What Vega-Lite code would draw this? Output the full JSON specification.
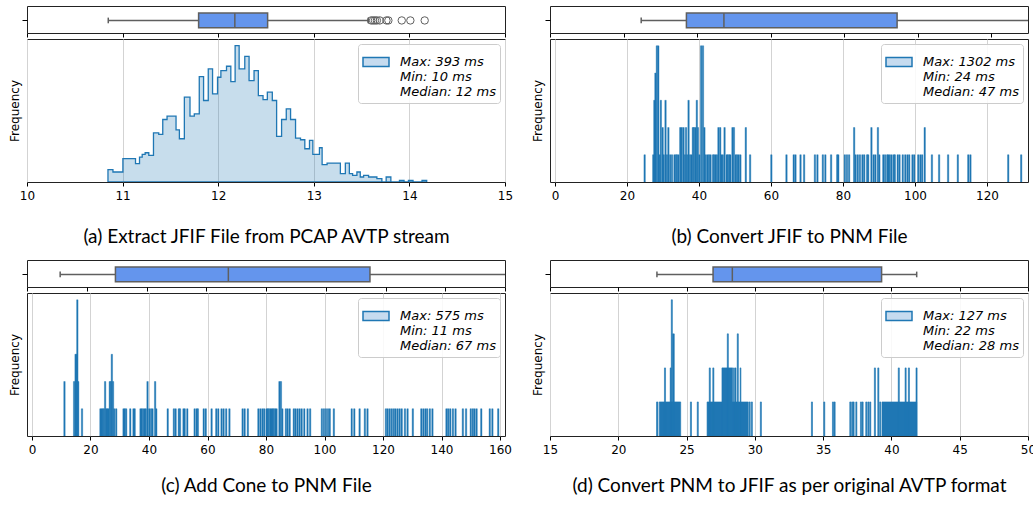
{
  "$schema": "https://vega.github.io/schema/vega-lite/v6.json",
  "padding": {"left": 7, "top": 5, "right": 0, "bottom": 0},
  "background": "white",
  "config": {
    "view": {"stroke": "#222222", "strokeWidth": 1},
    "axis": {"domain": false, "grid": false, "tickColor": "#000000", "tickSize": 4, "tickWidth": 1, "labelFont": "DejaVu Sans", "labelFontSize": 12, "labelColor": "#000000", "labelPadding": 3, "labelFlush": false, "labelOverlap": false, "titleFont": "DejaVu Sans", "titleFontSize": 12, "titleFontWeight": "normal", "titleColor": "#000000", "gridColor": "#d3d3d3", "gridWidth": 1},
    "legend": {"orient": "top-right", "offset": 5, "fillColor": "rgba(255,255,255,0.85)", "strokeColor": "#cccccc", "cornerRadius": 3, "padding": 4, "labelFont": "DejaVu Sans", "labelFontSize": 13, "labelFontStyle": "italic", "labelColor": "#000000", "labelLimit": 0, "labelOffset": 10, "symbolSize": 676, "symbolStrokeWidth": 1.5}
  },
  "datasets": {
    "boxes": [
      {"panel": "a", "lo": 10.85, "q1": 11.795, "med": 12.174, "q3": 12.517, "hi": 13.57},
      {"panel": "b", "lo": 24.8, "q1": 37.1, "med": 47.3, "q3": 94.4, "hi": 200},
      {"panel": "c", "lo": 11.1, "q1": 29.6, "med": 67.4, "q3": 114.8, "hi": 300},
      {"panel": "d", "lo": 22.83, "q1": 26.94, "med": 28.35, "q3": 39.28, "hi": 41.85}
    ],
    "outA": [{"v": 13.6}, {"v": 13.62}, {"v": 13.64}, {"v": 13.66}, {"v": 13.69}, {"v": 13.76}, {"v": 13.78}, {"v": 13.92}, {"v": 14.01}, {"v": 14.16}],
    "histA": [
      {"t": 10.847, "h": 37}, {"t": 10.899, "h": 30}, {"t": 11.003, "h": 70}, {"t": 11.135, "h": 55}, {"t": 11.177, "h": 75}, {"t": 11.205, "h": 83}, {"t": 11.236, "h": 88}, {"t": 11.274, "h": 80}, {"t": 11.323, "h": 148}, {"t": 11.378, "h": 143}, {"t": 11.42, "h": 188}, {"t": 11.465, "h": 198}, {"t": 11.559, "h": 157}, {"t": 11.594, "h": 130}, {"t": 11.646, "h": 255}, {"t": 11.705, "h": 198}, {"t": 11.75, "h": 205}, {"t": 11.802, "h": 317}, {"t": 11.847, "h": 245}, {"t": 11.896, "h": 340}, {"t": 11.941, "h": 265}, {"t": 11.993, "h": 315}, {"t": 12.028, "h": 335}, {"t": 12.087, "h": 348}, {"t": 12.132, "h": 302}, {"t": 12.177, "h": 410}, {"t": 12.219, "h": 340}, {"t": 12.278, "h": 378}, {"t": 12.323, "h": 305}, {"t": 12.375, "h": 335}, {"t": 12.42, "h": 260}, {"t": 12.469, "h": 248}, {"t": 12.514, "h": 270}, {"t": 12.566, "h": 245}, {"t": 12.611, "h": 137}, {"t": 12.663, "h": 188}, {"t": 12.712, "h": 220}, {"t": 12.757, "h": 188}, {"t": 12.809, "h": 132}, {"t": 12.861, "h": 127}, {"t": 12.906, "h": 100}, {"t": 12.955, "h": 125}, {"t": 12.99, "h": 83}, {"t": 13.059, "h": 103}, {"t": 13.087, "h": 52}, {"t": 13.139, "h": 57}, {"t": 13.278, "h": 25}, {"t": 13.33, "h": 57}, {"t": 13.372, "h": 25}, {"t": 13.406, "h": 20}, {"t": 13.451, "h": 30}, {"t": 13.486, "h": 15}, {"t": 13.521, "h": 20}, {"t": 13.573, "h": 15}, {"t": 13.66, "h": 10}, {"t": 13.712, "h": 0}, {"t": 13.757, "h": 15}, {"t": 13.806, "h": 0}, {"t": 13.896, "h": 5}, {"t": 13.944, "h": 0}, {"t": 13.99, "h": 5}, {"t": 14.038, "h": 0}, {"t": 14.132, "h": 5}, {"t": 14.181, "h": 0}
    ],
    "histB": [
      {"t": 24.9, "n": 1}, {"t": 27.3, "n": 1}, {"t": 27.6, "n": 3}, {"t": 27.9, "n": 4}, {"t": 28.3, "n": 5}, {"t": 28.7, "n": 5}, {"t": 29.1, "n": 1}, {"t": 29.4, "n": 3}, {"t": 29.9, "n": 2}, {"t": 30.2, "n": 1}, {"t": 30.7, "n": 3}, {"t": 31.1, "n": 1}, {"t": 31.5, "n": 2}, {"t": 32.0, "n": 1}, {"t": 32.5, "n": 1}, {"t": 33.2, "n": 1}, {"t": 33.6, "n": 1}, {"t": 33.9, "n": 1}, {"t": 34.3, "n": 1}, {"t": 34.8, "n": 2}, {"t": 35.2, "n": 2}, {"t": 35.7, "n": 2}, {"t": 36.1, "n": 1}, {"t": 36.4, "n": 2}, {"t": 36.7, "n": 1}, {"t": 37.1, "n": 3}, {"t": 37.5, "n": 1}, {"t": 37.9, "n": 1}, {"t": 38.3, "n": 2}, {"t": 38.6, "n": 2}, {"t": 39.0, "n": 2}, {"t": 39.4, "n": 3}, {"t": 39.7, "n": 2}, {"t": 40.1, "n": 1}, {"t": 40.6, "n": 5}, {"t": 41.1, "n": 5}, {"t": 41.5, "n": 2}, {"t": 41.9, "n": 1}, {"t": 42.4, "n": 1}, {"t": 42.8, "n": 1}, {"t": 43.2, "n": 1}, {"t": 43.9, "n": 1}, {"t": 44.2, "n": 1}, {"t": 44.6, "n": 1}, {"t": 45.0, "n": 1}, {"t": 45.4, "n": 2}, {"t": 45.9, "n": 2}, {"t": 46.2, "n": 1}, {"t": 46.6, "n": 1}, {"t": 47.1, "n": 2}, {"t": 47.7, "n": 1}, {"t": 48.0, "n": 1}, {"t": 48.4, "n": 1}, {"t": 48.7, "n": 1}, {"t": 49.3, "n": 2}, {"t": 49.7, "n": 2}, {"t": 50.2, "n": 1}, {"t": 50.6, "n": 1}, {"t": 51.0, "n": 1}, {"t": 51.5, "n": 1}, {"t": 53.0, "n": 2}, {"t": 54.2, "n": 1}, {"t": 60.1, "n": 1}, {"t": 64.3, "n": 1}, {"t": 66.3, "n": 1}, {"t": 66.8, "n": 1}, {"t": 68.2, "n": 1}, {"t": 69.2, "n": 1}, {"t": 72.2, "n": 1}, {"t": 72.9, "n": 1}, {"t": 74.4, "n": 1}, {"t": 75.1, "n": 1}, {"t": 76.7, "n": 1}, {"t": 78.4, "n": 1}, {"t": 78.7, "n": 1}, {"t": 80.5, "n": 1}, {"t": 81.1, "n": 1}, {"t": 81.7, "n": 1}, {"t": 83.1, "n": 2}, {"t": 83.5, "n": 1}, {"t": 84.1, "n": 1}, {"t": 84.7, "n": 1}, {"t": 85.4, "n": 1}, {"t": 85.9, "n": 1}, {"t": 86.7, "n": 1}, {"t": 87.0, "n": 1}, {"t": 87.9, "n": 2}, {"t": 88.5, "n": 1}, {"t": 89.0, "n": 1}, {"t": 89.7, "n": 2}, {"t": 90.1, "n": 1}, {"t": 91.2, "n": 1}, {"t": 91.7, "n": 1}, {"t": 92.3, "n": 1}, {"t": 92.6, "n": 1}, {"t": 93.0, "n": 1}, {"t": 93.5, "n": 1}, {"t": 94.1, "n": 1}, {"t": 94.4, "n": 1}, {"t": 95.2, "n": 1}, {"t": 95.7, "n": 1}, {"t": 96.6, "n": 1}, {"t": 97.3, "n": 1}, {"t": 97.9, "n": 1}, {"t": 98.4, "n": 1}, {"t": 99.3, "n": 1}, {"t": 99.8, "n": 1}, {"t": 100.9, "n": 1}, {"t": 101.5, "n": 1}, {"t": 102.0, "n": 1}, {"t": 102.7, "n": 2}, {"t": 104.7, "n": 1}, {"t": 106.7, "n": 1}, {"t": 109.2, "n": 1}, {"t": 111.9, "n": 1}, {"t": 114.8, "n": 1}, {"t": 115.4, "n": 1}, {"t": 125.9, "n": 1}, {"t": 129.5, "n": 1}
    ],
    "histC": [
      {"t": 11.1, "n": 2}, {"t": 14.4, "n": 2}, {"t": 14.9, "n": 3}, {"t": 15.2, "n": 3}, {"t": 15.5, "n": 5}, {"t": 15.8, "n": 2}, {"t": 17.1, "n": 1}, {"t": 23.4, "n": 1}, {"t": 23.8, "n": 1}, {"t": 24.2, "n": 1}, {"t": 24.6, "n": 1}, {"t": 25.0, "n": 2}, {"t": 25.4, "n": 1}, {"t": 25.8, "n": 1}, {"t": 26.1, "n": 1}, {"t": 26.6, "n": 2}, {"t": 27.0, "n": 2}, {"t": 27.3, "n": 3}, {"t": 27.7, "n": 2}, {"t": 28.1, "n": 1}, {"t": 28.8, "n": 1}, {"t": 31.3, "n": 1}, {"t": 31.7, "n": 1}, {"t": 32.2, "n": 1}, {"t": 33.6, "n": 1}, {"t": 34.7, "n": 1}, {"t": 35.1, "n": 1}, {"t": 37.1, "n": 1}, {"t": 37.5, "n": 1}, {"t": 38.0, "n": 1}, {"t": 38.5, "n": 1}, {"t": 38.9, "n": 1}, {"t": 39.5, "n": 2}, {"t": 40.1, "n": 1}, {"t": 40.7, "n": 1}, {"t": 41.2, "n": 1}, {"t": 42.1, "n": 2}, {"t": 42.5, "n": 1}, {"t": 46.4, "n": 1}, {"t": 48.5, "n": 1}, {"t": 49.1, "n": 1}, {"t": 50.2, "n": 1}, {"t": 50.6, "n": 1}, {"t": 51.8, "n": 1}, {"t": 52.2, "n": 1}, {"t": 53.1, "n": 1}, {"t": 55.6, "n": 1}, {"t": 56.3, "n": 1}, {"t": 56.7, "n": 1}, {"t": 58.7, "n": 1}, {"t": 59.4, "n": 1}, {"t": 61.4, "n": 1}, {"t": 63.0, "n": 1}, {"t": 63.7, "n": 1}, {"t": 64.8, "n": 1}, {"t": 65.5, "n": 1}, {"t": 66.4, "n": 1}, {"t": 67.5, "n": 1}, {"t": 72.0, "n": 1}, {"t": 72.7, "n": 1}, {"t": 73.8, "n": 1}, {"t": 77.4, "n": 1}, {"t": 78.1, "n": 1}, {"t": 78.8, "n": 1}, {"t": 79.4, "n": 1}, {"t": 80.2, "n": 1}, {"t": 80.6, "n": 1}, {"t": 81.0, "n": 1}, {"t": 81.5, "n": 1}, {"t": 81.9, "n": 1}, {"t": 82.3, "n": 1}, {"t": 82.7, "n": 1}, {"t": 83.2, "n": 1}, {"t": 83.6, "n": 1}, {"t": 84.6, "n": 2}, {"t": 85.1, "n": 2}, {"t": 85.6, "n": 1}, {"t": 86.8, "n": 1}, {"t": 87.4, "n": 1}, {"t": 88.1, "n": 1}, {"t": 89.5, "n": 1}, {"t": 90.1, "n": 1}, {"t": 90.8, "n": 1}, {"t": 91.5, "n": 1}, {"t": 92.2, "n": 1}, {"t": 93.1, "n": 1}, {"t": 94.2, "n": 1}, {"t": 95.1, "n": 1}, {"t": 99.1, "n": 1}, {"t": 99.8, "n": 1}, {"t": 100.5, "n": 1}, {"t": 101.2, "n": 1}, {"t": 101.8, "n": 1}, {"t": 103.2, "n": 1}, {"t": 109.3, "n": 1}, {"t": 110.2, "n": 1}, {"t": 112.0, "n": 1}, {"t": 113.8, "n": 1}, {"t": 114.7, "n": 1}, {"t": 121.0, "n": 1}, {"t": 121.6, "n": 1}, {"t": 122.3, "n": 1}, {"t": 123.0, "n": 1}, {"t": 123.7, "n": 1}, {"t": 124.3, "n": 1}, {"t": 125.0, "n": 1}, {"t": 125.7, "n": 1}, {"t": 126.4, "n": 1}, {"t": 127.5, "n": 1}, {"t": 128.4, "n": 1}, {"t": 130.2, "n": 1}, {"t": 133.1, "n": 1}, {"t": 133.8, "n": 1}, {"t": 134.5, "n": 1}, {"t": 135.1, "n": 1}, {"t": 136.0, "n": 1}, {"t": 136.9, "n": 1}, {"t": 141.7, "n": 1}, {"t": 142.3, "n": 1}, {"t": 143.0, "n": 1}, {"t": 143.9, "n": 1}, {"t": 144.8, "n": 1}, {"t": 147.3, "n": 1}, {"t": 148.4, "n": 1}, {"t": 150.0, "n": 1}, {"t": 150.7, "n": 1}, {"t": 151.3, "n": 1}, {"t": 152.0, "n": 1}, {"t": 153.6, "n": 1}, {"t": 156.5, "n": 1}, {"t": 157.4, "n": 1}, {"t": 159.4, "n": 1}
    ],
    "histD": [
      {"t0": 22.8, "t1": 22.9, "n": 1}, {"t0": 23.0, "t1": 24.57, "n": 1}, {"t0": 23.38, "t1": 23.46, "n": 2}, {"t0": 23.8, "t1": 23.87, "n": 2}, {"t0": 23.88, "t1": 23.96, "n": 4}, {"t0": 23.98, "t1": 24.1, "n": 3},
      {"t0": 25.28, "t1": 25.36, "n": 1}, {"t0": 25.78, "t1": 25.86, "n": 1},
      {"t0": 26.5, "t1": 29.52, "n": 1}, {"t0": 26.66, "t1": 26.74, "n": 2}, {"t0": 26.92, "t1": 27.0, "n": 2}, {"t0": 27.59, "t1": 28.38, "n": 2}, {"t0": 27.98, "t1": 28.06, "n": 3}, {"t0": 28.44, "t1": 28.5, "n": 2}, {"t0": 28.55, "t1": 28.62, "n": 2}, {"t0": 28.71, "t1": 28.79, "n": 3}, {"t0": 28.92, "t1": 28.98, "n": 2},
      {"t0": 29.58, "t1": 29.66, "n": 1}, {"t0": 29.74, "t1": 29.82, "n": 1}, {"t0": 30.4, "t1": 30.48, "n": 1},
      {"t0": 34.14, "t1": 34.22, "n": 1}, {"t0": 35.04, "t1": 35.12, "n": 1}, {"t0": 35.68, "t1": 35.76, "n": 1}, {"t0": 35.8, "t1": 35.88, "n": 1},
      {"t0": 36.95, "t1": 37.03, "n": 1}, {"t0": 37.09, "t1": 37.17, "n": 1}, {"t0": 37.19, "t1": 37.27, "n": 1}, {"t0": 37.39, "t1": 37.47, "n": 1}, {"t0": 37.73, "t1": 37.81, "n": 1}, {"t0": 37.85, "t1": 37.93, "n": 1}, {"t0": 38.12, "t1": 38.2, "n": 1}, {"t0": 38.27, "t1": 38.35, "n": 1}, {"t0": 38.41, "t1": 38.49, "n": 1}, {"t0": 38.75, "t1": 38.83, "n": 2}, {"t0": 39.0, "t1": 39.08, "n": 2}, {"t0": 39.14, "t1": 39.22, "n": 1},
      {"t0": 39.31, "t1": 41.85, "n": 1}, {"t0": 40.5, "t1": 40.58, "n": 2}, {"t0": 41.0, "t1": 41.08, "n": 2}, {"t0": 41.24, "t1": 41.32, "n": 2}, {"t0": 41.8, "t1": 41.88, "n": 2}
    ],
    "legends": [
      {"panel": "a", "label": "Max: 393 ms|Min: 10 ms|Median: 12 ms"},
      {"panel": "b", "label": "Max: 1302 ms|Min: 24 ms|Median: 47 ms"},
      {"panel": "c", "label": "Max: 575 ms|Min: 11 ms|Median: 67 ms"},
      {"panel": "d", "label": "Max: 127 ms|Min: 22 ms|Median: 28 ms"}
    ]
  },
  "concat": [
    {
      "vconcat": [
        {
          "width": 478, "height": 27,
          "data": {"name": "boxes"},
          "transform": [{"filter": "datum.panel == 'a'"}],
          "layer": [
            {"mark": {"type": "rule", "color": "#5f5f5f", "strokeWidth": 1.5, "clip": true},
             "encoding": {"x": {"field": "lo", "type": "quantitative", "scale": {"domain": [10, 15], "nice": false, "zero": false}, "axis": {"values": [10, 11, 12, 13, 14, 15], "labels": false, "title": null}}, "x2": {"field": "hi"}, "y": {"datum": 0.465, "type": "quantitative", "scale": {"domain": [0, 1], "nice": false}, "axis": {"values": [0.465], "labels": false, "title": null, "tickSize": 5}}}},
            {"mark": {"type": "rule", "color": "#5f5f5f", "strokeWidth": 1.5, "clip": true},
             "encoding": {"x": {"field": "lo", "type": "quantitative"}, "y": {"datum": 0.36, "type": "quantitative"}, "y2": {"datum": 0.57}}},
            {"mark": {"type": "rule", "color": "#5f5f5f", "strokeWidth": 1.5, "clip": true},
             "encoding": {"x": {"field": "hi", "type": "quantitative"}, "y": {"datum": 0.36, "type": "quantitative"}, "y2": {"datum": 0.57}}},
            {"mark": {"type": "bar", "fill": "#6495ED", "stroke": "#5f5f5f", "strokeWidth": 1.5, "clip": true},
             "encoding": {"x": {"field": "q1", "type": "quantitative"}, "x2": {"field": "q3"}, "y": {"datum": 0.19, "type": "quantitative"}, "y2": {"datum": 0.74}}},
            {"mark": {"type": "rule", "color": "#5f5f5f", "strokeWidth": 1.5, "clip": true},
             "encoding": {"x": {"field": "med", "type": "quantitative"}, "y": {"datum": 0.19, "type": "quantitative"}, "y2": {"datum": 0.74}}},
            {"data": {"name": "outA"}, "transform": [],
             "mark": {"type": "point", "shape": "circle", "filled": false, "stroke": "#5f5f5f", "strokeWidth": 1, "size": 55, "opacity": 1, "clip": true},
             "encoding": {"x": {"field": "v", "type": "quantitative"}, "y": {"datum": 0.465, "type": "quantitative"}}}
          ]
        },
        {
          "width": 478, "height": 143,
          "layer": [
            {"data": {"name": "histA"},
             "mark": {"type": "area", "interpolate": "step-after", "fill": "#1f77b4", "fillOpacity": 0.25, "stroke": "#1f77b4", "strokeWidth": 1.3, "clip": true},
             "encoding": {
               "x": {"field": "t", "type": "quantitative", "scale": {"domain": [10, 15], "nice": false, "zero": false}, "axis": {"values": [10, 11, 12, 13, 14, 15], "grid": true, "labelPadding": 4, "title": "(a) Extract JFIF File from PCAP AVTP stream", "titleFont": "Lato", "titleFontSize": 19, "titlePadding": 26}},
               "y": {"field": "h", "type": "quantitative", "scale": {"domain": [0, 430], "nice": false}, "axis": {"title": "Frequency", "labels": false, "ticks": false, "titlePadding": 6}}
             }},
            {"data": {"name": "legends"}, "transform": [{"filter": "datum.panel == 'zz'"}],
             "mark": {"type": "point", "filled": true, "fill": "#c6dbef", "stroke": "#1f77b4", "strokeWidth": 1.5, "opacity": 1, "size": 676},
             "encoding": {"shape": {"datum": "Max: 393 ms|Min: 10 ms|Median: 12 ms", "type": "nominal", "scale": {"range": ["M-1,-0.35L1,-0.35L1,0.35L-1,0.35Z"]}, "legend": {"title": null, "labelExpr": "split(datum.label, '|')", "encode": {"labels": {"update": {"lineHeight": {"value": 14}}}}}}}}
          ]
        }
      ],
      "spacing": 6, "bounds": "flush",
      "resolve": {"scale": {"shape": "independent"}, "legend": {"shape": "independent"}}
    },
    {
      "vconcat": [
        {
          "width": 478, "height": 27,
          "data": {"name": "boxes"},
          "transform": [{"filter": "datum.panel == 'b'"}],
          "layer": [
            {"mark": {"type": "rule", "color": "#5f5f5f", "strokeWidth": 1.5, "clip": true},
             "encoding": {"x": {"field": "lo", "type": "quantitative", "scale": {"domain": [0, 130], "nice": false, "zero": false}, "axis": {"values": [0, 20, 40, 60, 80, 100, 120], "labels": false, "title": null}}, "x2": {"field": "hi"}, "y": {"datum": 0.465, "type": "quantitative", "scale": {"domain": [0, 1], "nice": false}, "axis": {"values": [0.465], "labels": false, "title": null, "tickSize": 5}}}},
            {"mark": {"type": "rule", "color": "#5f5f5f", "strokeWidth": 1.5, "clip": true},
             "encoding": {"x": {"field": "lo", "type": "quantitative"}, "y": {"datum": 0.36, "type": "quantitative"}, "y2": {"datum": 0.57}}},
            {"mark": {"type": "bar", "fill": "#6495ED", "stroke": "#5f5f5f", "strokeWidth": 1.5, "clip": true},
             "encoding": {"x": {"field": "q1", "type": "quantitative"}, "x2": {"field": "q3"}, "y": {"datum": 0.19, "type": "quantitative"}, "y2": {"datum": 0.74}}},
            {"mark": {"type": "rule", "color": "#5f5f5f", "strokeWidth": 1.5, "clip": true},
             "encoding": {"x": {"field": "med", "type": "quantitative"}, "y": {"datum": 0.19, "type": "quantitative"}, "y2": {"datum": 0.74}}}
          ]
        },
        {
          "width": 478, "height": 143,
          "layer": [
            {"data": {"name": "histB"},
             "mark": {"type": "bar", "width": 1.4, "fill": "#1f77b4", "stroke": "#1f77b4", "strokeWidth": 0.4, "clip": true},
             "encoding": {
               "x": {"field": "t", "type": "quantitative", "scale": {"domain": [0, 130], "nice": false, "zero": false}, "axis": {"values": [0, 20, 40, 60, 80, 100, 120], "grid": true, "labelPadding": 4, "title": "(b) Convert JFIF to PNM File", "titleFont": "Lato", "titleFontSize": 19, "titlePadding": 26}},
               "y": {"field": "n", "type": "quantitative", "scale": {"domain": [0, 5.25], "nice": false}, "axis": {"title": "Frequency", "labels": false, "ticks": false, "titlePadding": 6}}
             }},
            {"data": {"name": "legends"}, "transform": [{"filter": "datum.panel == 'zz'"}],
             "mark": {"type": "point", "filled": true, "fill": "#c6dbef", "stroke": "#1f77b4", "strokeWidth": 1.5, "opacity": 1, "size": 676},
             "encoding": {"shape": {"datum": "Max: 1302 ms|Min: 24 ms|Median: 47 ms", "type": "nominal", "scale": {"range": ["M-1,-0.35L1,-0.35L1,0.35L-1,0.35Z"]}, "legend": {"title": null, "labelExpr": "split(datum.label, '|')", "encode": {"labels": {"update": {"lineHeight": {"value": 14}}}}}}}}
          ]
        }
      ],
      "spacing": 6, "bounds": "flush",
      "resolve": {"scale": {"shape": "independent"}, "legend": {"shape": "independent"}}
    },
    {
      "vconcat": [
        {
          "width": 478, "height": 27,
          "data": {"name": "boxes"},
          "transform": [{"filter": "datum.panel == 'c'"}],
          "layer": [
            {"mark": {"type": "rule", "color": "#5f5f5f", "strokeWidth": 1.5, "clip": true},
             "encoding": {"x": {"field": "lo", "type": "quantitative", "scale": {"domain": [0, 160], "nice": false, "zero": false}, "axis": {"values": [0, 20, 40, 60, 80, 100, 120, 140, 160], "labels": false, "title": null}}, "x2": {"field": "hi"}, "y": {"datum": 0.465, "type": "quantitative", "scale": {"domain": [0, 1], "nice": false}, "axis": {"values": [0.465], "labels": false, "title": null, "tickSize": 5}}}},
            {"mark": {"type": "rule", "color": "#5f5f5f", "strokeWidth": 1.5, "clip": true},
             "encoding": {"x": {"field": "lo", "type": "quantitative"}, "y": {"datum": 0.36, "type": "quantitative"}, "y2": {"datum": 0.57}}},
            {"mark": {"type": "bar", "fill": "#6495ED", "stroke": "#5f5f5f", "strokeWidth": 1.5, "clip": true},
             "encoding": {"x": {"field": "q1", "type": "quantitative"}, "x2": {"field": "q3"}, "y": {"datum": 0.19, "type": "quantitative"}, "y2": {"datum": 0.74}}},
            {"mark": {"type": "rule", "color": "#5f5f5f", "strokeWidth": 1.5, "clip": true},
             "encoding": {"x": {"field": "med", "type": "quantitative"}, "y": {"datum": 0.19, "type": "quantitative"}, "y2": {"datum": 0.74}}}
          ]
        },
        {
          "width": 478, "height": 143,
          "layer": [
            {"data": {"name": "histC"},
             "mark": {"type": "bar", "width": 1.4, "fill": "#1f77b4", "stroke": "#1f77b4", "strokeWidth": 0.4, "clip": true},
             "encoding": {
               "x": {"field": "t", "type": "quantitative", "scale": {"domain": [0, 160], "nice": false, "zero": false}, "axis": {"values": [0, 20, 40, 60, 80, 100, 120, 140, 160], "grid": true, "labelPadding": 4, "title": "(c) Add Cone to PNM File", "titleFont": "Lato", "titleFontSize": 19, "titlePadding": 21}},
               "y": {"field": "n", "type": "quantitative", "scale": {"domain": [0, 5.25], "nice": false}, "axis": {"title": "Frequency", "labels": false, "ticks": false, "titlePadding": 6}}
             }},
            {"data": {"name": "legends"}, "transform": [{"filter": "datum.panel == 'zz'"}],
             "mark": {"type": "point", "filled": true, "fill": "#c6dbef", "stroke": "#1f77b4", "strokeWidth": 1.5, "opacity": 1, "size": 676},
             "encoding": {"shape": {"datum": "Max: 575 ms|Min: 11 ms|Median: 67 ms", "type": "nominal", "scale": {"range": ["M-1,-0.35L1,-0.35L1,0.35L-1,0.35Z"]}, "legend": {"title": null, "labelExpr": "split(datum.label, '|')", "encode": {"labels": {"update": {"lineHeight": {"value": 14}}}}}}}}
          ]
        }
      ],
      "spacing": 6, "bounds": "flush",
      "resolve": {"scale": {"shape": "independent"}, "legend": {"shape": "independent"}}
    },
    {
      "vconcat": [
        {
          "width": 478, "height": 27,
          "data": {"name": "boxes"},
          "transform": [{"filter": "datum.panel == 'd'"}],
          "layer": [
            {"mark": {"type": "rule", "color": "#5f5f5f", "strokeWidth": 1.5, "clip": true},
             "encoding": {"x": {"field": "lo", "type": "quantitative", "scale": {"domain": [15, 50], "nice": false, "zero": false}, "axis": {"values": [15, 20, 25, 30, 35, 40, 45, 50], "labels": false, "title": null}}, "x2": {"field": "hi"}, "y": {"datum": 0.465, "type": "quantitative", "scale": {"domain": [0, 1], "nice": false}, "axis": {"values": [0.465], "labels": false, "title": null, "tickSize": 5}}}},
            {"mark": {"type": "rule", "color": "#5f5f5f", "strokeWidth": 1.5, "clip": true},
             "encoding": {"x": {"field": "lo", "type": "quantitative"}, "y": {"datum": 0.36, "type": "quantitative"}, "y2": {"datum": 0.57}}},
            {"mark": {"type": "rule", "color": "#5f5f5f", "strokeWidth": 1.5, "clip": true},
             "encoding": {"x": {"field": "hi", "type": "quantitative"}, "y": {"datum": 0.36, "type": "quantitative"}, "y2": {"datum": 0.57}}},
            {"mark": {"type": "bar", "fill": "#6495ED", "stroke": "#5f5f5f", "strokeWidth": 1.5, "clip": true},
             "encoding": {"x": {"field": "q1", "type": "quantitative"}, "x2": {"field": "q3"}, "y": {"datum": 0.19, "type": "quantitative"}, "y2": {"datum": 0.74}}},
            {"mark": {"type": "rule", "color": "#5f5f5f", "strokeWidth": 1.5, "clip": true},
             "encoding": {"x": {"field": "med", "type": "quantitative"}, "y": {"datum": 0.19, "type": "quantitative"}, "y2": {"datum": 0.74}}}
          ]
        },
        {
          "width": 478, "height": 143,
          "layer": [
            {"data": {"name": "histD"},
             "mark": {"type": "bar", "fill": "#1f77b4", "stroke": "#1f77b4", "strokeWidth": 0.6, "clip": true},
             "encoding": {
               "x": {"field": "t0", "type": "quantitative", "scale": {"domain": [15, 50], "nice": false, "zero": false}, "axis": {"values": [15, 20, 25, 30, 35, 40, 45, 50], "grid": true, "labelPadding": 4, "title": "(d) Convert PNM to JFIF as per original AVTP format", "titleFont": "Lato", "titleFontSize": 19, "titlePadding": 21}},
               "x2": {"field": "t1"},
               "y": {"field": "n", "type": "quantitative", "scale": {"domain": [0, 4.2], "nice": false}, "axis": {"title": "Frequency", "labels": false, "ticks": false, "titlePadding": 6}},
               "y2": {"datum": 0}
             }},
            {"data": {"name": "legends"}, "transform": [{"filter": "datum.panel == 'zz'"}],
             "mark": {"type": "point", "filled": true, "fill": "#c6dbef", "stroke": "#1f77b4", "strokeWidth": 1.5, "opacity": 1, "size": 676},
             "encoding": {"shape": {"datum": "Max: 127 ms|Min: 22 ms|Median: 28 ms", "type": "nominal", "scale": {"range": ["M-1,-0.35L1,-0.35L1,0.35L-1,0.35Z"]}, "legend": {"title": null, "labelExpr": "split(datum.label, '|')", "encode": {"labels": {"update": {"lineHeight": {"value": 14}}}}}}}}
          ]
        }
      ],
      "spacing": 6, "bounds": "flush",
      "resolve": {"scale": {"shape": "independent"}, "legend": {"shape": "independent"}}
    }
  ],
  "columns": 2,
  "spacing": {"row": 12, "column": 16},
  "resolve": {"scale": {"shape": "independent"}, "legend": {"shape": "independent"}}
}
